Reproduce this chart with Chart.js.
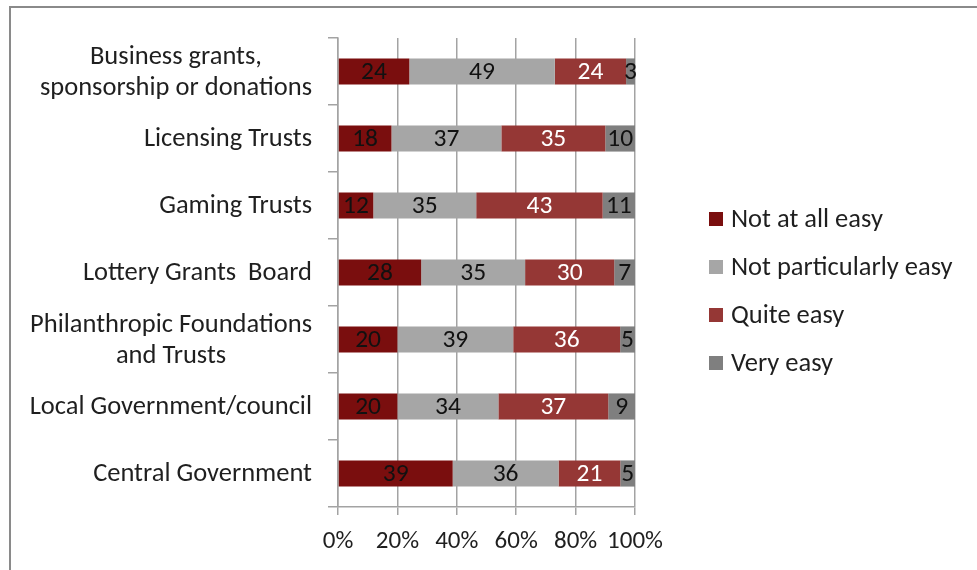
<!DOCTYPE html>
<html><head><meta charset="utf-8">
<script src="https://cdn.jsdelivr.net/npm/chart.js@4.4.1/dist/chart.umd.min.js"></script>
<style>html,body{margin:0;padding:0;background:#fff;}#wrap{width:977px;height:570px;}</style>
</head><body><div id="wrap"><canvas id="c" width="977" height="570"></canvas></div>
<script>
const categories = [["Business grants,","sponsorship or donations"],"Licensing Trusts","Gaming Trusts","Lottery Grants  Board",["Philanthropic Foundations","and Trusts"],"Local Government/council","Central Government"];
const seriesNames = ["Not at all easy","Not particularly easy","Quite easy","Very easy"];
const notAtAllEasy = [24,18,12,28,20,20,39];
const notParticularlyEasy = [49,37,35,35,39,34,36];
const quiteEasy = [24,35,43,30,36,37,21];
const veryEasy = [3,10,11,7,5,9,5];
const xTickLabels = ["0%","20%","40%","60%","80%","100%"];

const FONT = "Carlito, Calibri, Lato, sans-serif";
const FS = 26.5;
const FS_VAL = 25.5;
const FS_TICK = 25;
const TXT = "#1f1f1f";
const GRID = "#a3a3a3";
const colors = ["#7a0e0e","#a6a6a6","#953735","#7f7f7f"];
const labelColors = ["#111","#111","#ffffff","#111"];
const series = [notAtAllEasy, notParticularlyEasy, quiteEasy, veryEasy];
const totals = categories.map((_, i) => series.reduce((s, arr) => s + arr[i], 0));

const datasets = series.map((arr, k) => ({
  label: seriesNames[k],
  raw: arr,
  data: arr.map((v, i) => v / totals[i] * 100),
  backgroundColor: colors[k],
  borderWidth: 0,
  categoryPercentage: 1,
  barPercentage: 0.39
}));

const framePlugin = {
  id: 'frame',
  beforeDraw(chart) {
    const ctx = chart.ctx;
    ctx.save();
    ctx.fillStyle = '#fff';
    ctx.fillRect(0, 0, chart.width, chart.height);
    ctx.strokeStyle = '#8a8a8a';
    ctx.lineWidth = 2;
    ctx.beginPath();
    ctx.moveTo(10, chart.height);
    ctx.lineTo(10, 7);
    ctx.lineTo(chart.width, 7);
    ctx.stroke();
    ctx.restore();
  }
};

const yLabelPlugin = {
  id: 'ylabels',
  afterDraw(chart) {
    const ctx = chart.ctx, ys = chart.scales.y;
    const rightEdge = ys.right - 26;
    const lh = 31;
    ctx.save();
    ctx.font = FS + "px " + FONT;
    ctx.fillStyle = TXT;
    ctx.textAlign = 'center';
    ctx.textBaseline = 'middle';
    chart.data.labels.forEach((lab, i) => {
      const lines = Array.isArray(lab) ? lab : [lab];
      const w = Math.max(...lines.map(l => ctx.measureText(l).width));
      const cx = rightEdge - w / 2;
      const cy = ys.getPixelForValue(i);
      lines.forEach((l, j) => {
        ctx.fillText(l, cx, cy + 1 + (j - (lines.length - 1) / 2) * lh);
      });
    });
    ctx.restore();
  }
};

const valueLabelPlugin = {
  id: 'vlabels',
  afterDatasetsDraw(chart) {
    const ctx = chart.ctx;
    ctx.save();
    ctx.font = FS_VAL + "px " + FONT;
    ctx.textAlign = 'center';
    ctx.textBaseline = 'middle';
    chart.data.datasets.forEach((ds, k) => {
      const meta = chart.getDatasetMeta(k);
      ctx.fillStyle = labelColors[k];
      meta.data.forEach((bar, i) => {
        const p = bar.getProps(['x', 'y', 'base'], true);
        ctx.fillText(String(ds.raw[i]), (p.x + p.base) / 2, p.y + 1);
      });
    });
    ctx.restore();
  }
};

const legendPlugin = {
  id: 'customLegend',
  afterDraw(chart) {
    const ctx = chart.ctx;
    const bx = 709, tx = 731, top = 219, step = 48, box = 14;
    ctx.save();
    ctx.font = FS + "px " + FONT;
    ctx.textBaseline = 'middle';
    ctx.textAlign = 'left';
    chart.data.datasets.forEach((ds, k) => {
      const cy = top + k * step;
      ctx.fillStyle = ds.backgroundColor;
      ctx.fillRect(bx, cy - box / 2, box, box);
      ctx.fillStyle = TXT;
      ctx.fillText(ds.label, tx, cy + 1);
    });
    ctx.restore();
  }
};

new Chart(document.getElementById('c'), {
  type: 'bar',
  data: { labels: categories, datasets },
  options: {
    indexAxis: 'y',
    responsive: false,
    animation: false,
    devicePixelRatio: 1,
    layout: { padding: { top: 38, right: 342, left: 0, bottom: 0 } },
    plugins: { legend: { display: false }, tooltip: { enabled: false } },
    scales: {
      x: {
        stacked: true, min: 0, max: 100,
        ticks: {
          stepSize: 20, maxRotation: 0, padding: 12, color: TXT,
          font: { family: FONT, size: FS_TICK },
          callback: (v, i) => xTickLabels[i]
        },
        grid: { color: GRID, lineWidth: 1.5, tickLength: 8 },
        border: { color: GRID, width: 1.5 },
        afterFit(s) { s.height = 63; }
      },
      y: {
        stacked: true,
        ticks: { display: false },
        grid: { offset: true, drawOnChartArea: false, tickLength: 10, color: GRID, lineWidth: 1.5 },
        border: { color: GRID, width: 1.5 },
        afterFit(s) { s.width = 338; }
      }
    }
  },
  plugins: [framePlugin, valueLabelPlugin, yLabelPlugin, legendPlugin]
});
</script></body></html>
